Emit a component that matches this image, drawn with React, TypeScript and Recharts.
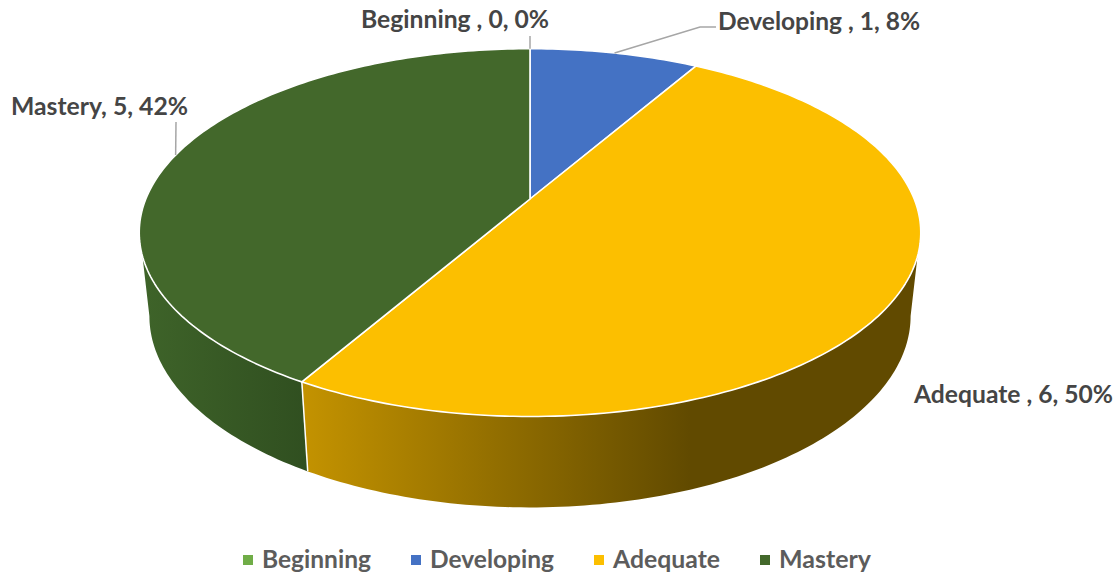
import React from "react";
import { PieChart, Pie, Legend } from "recharts";

const categories = ["Beginning ", "Developing ", "Adequate ", "Mastery"];
const values = [0, 1, 6, 5];
const colors = ["#70ad47", "#4472c4", "#fcbf00", "#43682b"];
const labelColor = "#454545";
const legendColor = "#5c5c5c";

const data = categories.map((name, i) => ({ name, value: values[i], fill: colors[i] }));

const W = 1120;
const H = 576;
const CX = 530;
const CY = 199;
const R = 384.2;
const FONT = "Lato, 'Open Sans', sans-serif";

// projection of the tilted disc: top face and bottom face
const P = 0.1826;
const TOP_A = 0.4627;
const BOT_X = 0.974;
const BOT_A = 0.4817;
const BOT_DY = 82;
const WALL_FROM = 107.7;
const WALL_TO = 252.3;
const BOT_FROM = 100.5;
const BOT_TO = 259.5;

function top(theta: number, cx: number, cy: number, r: number) {
  const t = (theta * Math.PI) / 180;
  const u = Math.sin(t);
  const v = -Math.cos(t);
  const w = 1 - P * v;
  return [cx + (r * u) / w, cy + (r * TOP_A * v) / w];
}
function bottom(theta: number, cx: number, cy: number, r: number) {
  const t = (theta * Math.PI) / 180;
  const u = Math.sin(t);
  const v = -Math.cos(t);
  const w = 1 - P * v;
  return [cx + (r * BOT_X * u) / w, cy + BOT_DY + (r * BOT_A * v) / w];
}
function arc(fn: typeof top, a: number, b: number, cx: number, cy: number, r: number) {
  const n = Math.max(2, Math.ceil(Math.abs(b - a)));
  const pts: number[][] = [];
  for (let i = 0; i <= n; i++) pts.push(fn(a + ((b - a) * i) / n, cx, cy, r));
  return pts;
}
const toPath = (pts: number[][]) =>
  pts.map((p, i) => `${i ? "L" : "M"}${p[0].toFixed(2)},${p[1].toFixed(2)}`).join(" ");

const wallStops: Record<string, { x1: number; x2: number; c1: string; c2: string }> = {
  Adequate: { x1: 301, x2: 690, c1: "#c49300", c2: "#614a00" },
  Mastery: { x1: 145, x2: 307, c1: "#3e6329", c2: "#304f20" },
  Developing: { x1: 0, x2: 1, c1: "#2f4f85", c2: "#2f4f85" },
  Beginning: { x1: 0, x2: 1, c1: "#4f7a32", c2: "#4f7a32" },
};

function Slice(props: any) {
  const { cx, cy, outerRadius: r, startAngle, endAngle, fill, name } = props;
  const a = 90 - startAngle;
  const b = 90 - endAngle;
  if (Math.abs(b - a) < 0.01) return null;
  const key = String(name).trim();
  const stops = wallStops[key];
  const from = Math.max(a, WALL_FROM);
  const to = Math.min(b, WALL_TO);
  const hasWall = to > from;
  const id = `wall-${key}`;
  const face = arc(top, a, b, cx, cy, r);
  const botFrom = Math.max(a, BOT_FROM);
  const botTo = Math.min(b, BOT_TO);
  return (
    <g>
      {hasWall && (
        <>
          <defs>
            <linearGradient id={id} gradientUnits="userSpaceOnUse" x1={stops.x1} x2={stops.x2} y1={0} y2={0}>
              <stop offset="0" stopColor={stops.c1} />
              <stop offset="1" stopColor={stops.c2} />
            </linearGradient>
          </defs>
          <path
            d={
              toPath([
                ...arc(top, from, to, cx, cy, r),
                ...arc(bottom, botTo, botFrom, cx, cy, r),
              ]) + " Z"
            }
            fill={`url(#${id})`}
          />
          {from > WALL_FROM && (
            <path
              d={toPath([top(from, cx, cy, r), bottom(from, cx, cy, r)])}
              stroke="#ffffff"
              strokeWidth={1.5}
              fill="none"
            />
          )}
        </>
      )}
      <path
        d={`${toPath([[cx, cy], ...face])} Z`}
        fill={fill}
        stroke="#ffffff"
        strokeWidth={1.6}
        strokeLinejoin="round"
      />
    </g>
  );
}

const labelLayout: Record<string, { x: number; y: number; w: number; line?: number[][] }> = {
  Beginning: { x: 361, y: 28, w: 188, line: [[530, 36]] },
  Developing: { x: 718, y: 30, w: 202, line: [[700, 27], [716, 27]] },
  Adequate: { x: 914, y: 403, w: 199 },
  Mastery: { x: 11, y: 115, w: 177, line: [[176, 122]] },
};

function Label(props: any) {
  const { cx, cy, outerRadius: r, midAngle, name, value, percent } = props;
  const key = String(name).trim();
  const l = labelLayout[key];
  const anchor = top(90 - midAngle, cx, cy, r);
  return (
    <g>
      {l.line && (
        <path d={toPath([anchor, ...l.line])} fill="none" stroke="#a6a6a6" strokeWidth={1.5} />
      )}
      <text
        x={l.x}
        y={l.y}
        textLength={l.w}
        lengthAdjust="spacingAndGlyphs"
        fontFamily={FONT}
        fontWeight={700}
        fontSize={25}
        fill={labelColor}
      >
        {`${name}, ${value}, ${Math.round(percent * 100)}%`}
      </text>
    </g>
  );
}

const legendLayout = [
  { sx: 243, tx: 262, w: 109 },
  { sx: 411, tx: 430, w: 124 },
  { sx: 594, tx: 613, w: 107 },
  { sx: 760, tx: 779, w: 92 },
];

function LegendContent(props: any) {
  const items = props.payload || [];
  return (
    <svg width={W} height={40} style={{ display: "block" }}>
      {items.map((it: any, i: number) => (
        <g key={i}>
          <rect x={legendLayout[i].sx} y={19} width={10} height={10} fill={colors[i]} />
          <text
            x={legendLayout[i].tx}
            y={32}
            textLength={legendLayout[i].w}
            lengthAdjust="spacingAndGlyphs"
            fontFamily={FONT}
            fontWeight={700}
            fontSize={25}
            fill={legendColor}
          >
            {String(it.value).trim()}
          </text>
        </g>
      ))}
    </svg>
  );
}

export default function App() {
  return (
    <div style={{ position: "absolute", left: 0, top: 0, width: W, height: H, background: "#fff" }}>
      <PieChart width={W} height={H} margin={{ top: 0, right: 0, bottom: 0, left: 0 }}>
        <Pie
          data={data}
          dataKey="value"
          nameKey="name"
          cx={CX}
          cy={CY}
          innerRadius={0}
          outerRadius={R}
          startAngle={90}
          endAngle={-270}
          stroke="none"
          isAnimationActive={false}
          shape={Slice}
          label={Label}
          labelLine={false}
        />
        <Legend
          content={LegendContent}
          itemSorter={null}
          wrapperStyle={{ position: "absolute", left: 0, top: 536, width: W, height: 40 }}
        />
      </PieChart>
    </div>
  );
}
